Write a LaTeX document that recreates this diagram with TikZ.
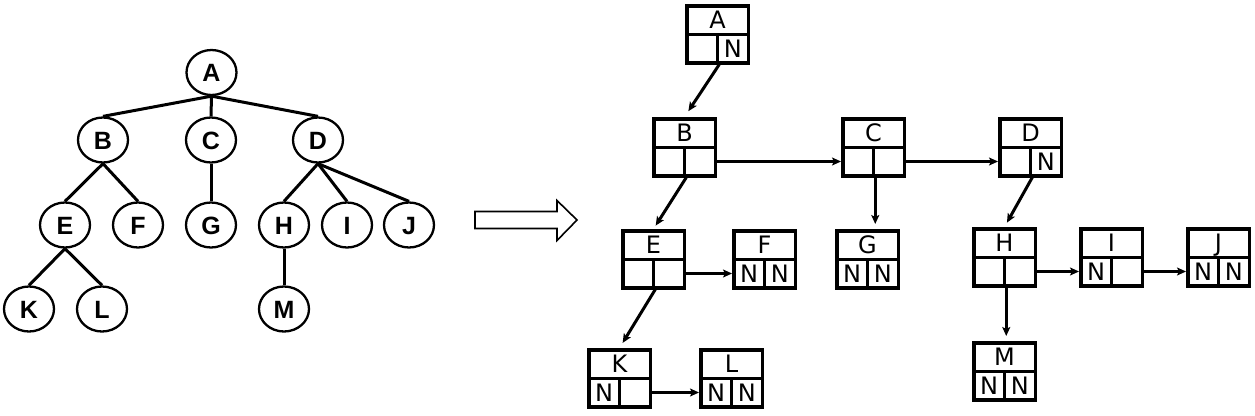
\documentclass[tikz,border=0pt]{standalone}
\usepackage{fontspec}
\setmainfont{DejaVu Sans}
\newfontfamily\treefont{Liberation Sans}
\usetikzlibrary{shapes.geometric,arrows.meta,calc}
\tikzset{
  tnode/.style={ellipse,draw,line width=2.3pt,minimum width=50pt,minimum height=45pt,inner sep=0pt,
    font=\treefont\bfseries\fontsize{25}{25}\selectfont,text height=18pt,text depth=0pt},
  tedge/.style={line width=3pt},
  cell/.style={draw,line width=3.5pt,inner sep=0pt,minimum height=28.5pt,anchor=north west,
    font=\fontsize{24}{24}\selectfont,text height=17.5pt,text depth=0pt},
  arr/.style={line width=3pt,-{Stealth[length=9pt,width=8pt,inset=2pt]}},
  hollow/.style={line width=1.6pt,line join=miter}
}
\newcommand\lbox[6]{%
  \node[cell,minimum width=61.5pt] (#1) at (#2,#3) {#4};
  \node[cell,minimum width=30.75pt] (#1-l) at (#2,#3+28.5) {#5};
  \node[cell,minimum width=30.75pt] (#1-r) at (#2+30.75,#3+28.5) {#6};
}
\begin{document}
\begin{tikzpicture}[x=1pt,y=-1pt]
\useasboundingbox (0,0) rectangle (1255,415);
% tree
\node[tnode] (tA) at (211.5,72.5) {A};
\node[tnode] (tB) at (103,140) {B};
\node[tnode] (tC) at (211,140) {C};
\node[tnode] (tD) at (318,140) {D};
\node[tnode] (tE) at (65,225) {E};
\node[tnode] (tF) at (138,225) {F};
\node[tnode] (tG) at (211,225) {G};
\node[tnode] (tH) at (284,225) {H};
\node[tnode] (tI) at (347,225) {I};
\node[tnode] (tJ) at (409,225) {J};
\node[tnode] (tK) at (29,309) {K};
\node[tnode] (tL) at (102,309) {L};
\node[tnode] (tM) at (284,309) {M};
\foreach \p/\c in {A/B,A/C,A/D,B/E,B/F,C/G,D/H,D/I,D/J,E/K,E/L,H/M}
  \draw[tedge] (t\p.south) -- (t\c.north);
% hollow arrow
\draw[hollow] (475,211.5) -- (557,211.5) -- (557,200.5) -- (577,220) -- (557,240.5) -- (557,228.5) -- (475,228.5) -- cycle;
% boxes
\lbox{A}{685}{4}{A}{}{N}
\lbox{B}{652}{117}{B}{}{}
\lbox{C}{841}{117}{C}{}{}
\lbox{D}{998}{117}{D}{}{N}
\lbox{E}{621}{229}{E}{}{}
\lbox{F}{732}{229}{F}{N}{N}
\lbox{G}{835}{229}{G}{N}{N}
\lbox{H}{972}{227}{H}{}{}
\lbox{I}{1079}{227}{I}{N}{}
\lbox{J}{1186}{227}{J}{N}{N}
\lbox{K}{587}{348}{K}{N}{}
\lbox{L}{699}{348}{L}{N}{N}
\lbox{M}{972}{341}{M}{N}{N}
% arrows
\draw[arr,shorten >=7pt] (A-l.south east) -- (B.north);
\draw[arr] (B-r.east) -- (C-l.west);
\draw[arr] (C-r.east) -- (D-l.west);
\draw[arr,shorten >=5pt] (C-l.south east) -- (C-l.south east |- G.north);
\draw[arr,shorten >=4pt] (B-l.south east) -- (E.north);
\draw[arr,shorten >=5pt] (D-l.south east) -- (H.north);
\draw[arr] (E-r.east) -- (F-l.west);
\draw[arr,shorten >=6pt] (E-l.south east) -- (K.north);
\draw[arr] (K-r.east) -- (L-l.west);
\draw[arr] (H-r.east) -- (I-l.west);
\draw[arr] (I-r.east) -- (J-l.west);
\draw[arr,shorten >=5pt] (H-l.south east) -- (H-l.south east |- M.north);
\end{tikzpicture}
\end{document}
